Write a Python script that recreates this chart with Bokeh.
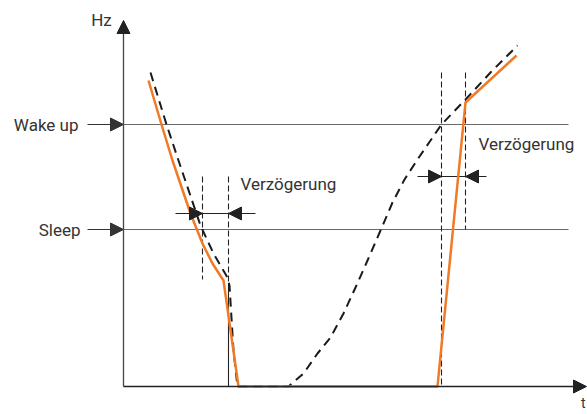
from bokeh.plotting import figure
from bokeh.models import Range1d, Arrow, NormalHead, Label
from bokeh.embed import file_html
from bokeh.resources import INLINE

# ---- data (t, Hz), origin at the axes crossing ----
motor_t = [25, 38, 49, 67, 79, 89, 100, 115, 314, 342, 393]
motor_hz = [306, 262, 226, 173, 143, 123, 106, 0, 0, 284, 331]

demand_t = [27, 43, 55, 77, 90, 104, 106, 110, 114, 165, 180, 194, 207, 220, 232,
            244, 257, 269, 281, 294, 307, 318, 342, 367, 394]
demand_hz = [314, 262, 226, 161, 133, 109, 101, 36, 0, 0, 13, 33, 49, 73, 99,
             126, 156, 184, 207, 227, 246, 262, 287, 314, 341]

wake_hz = 262
sleep_hz = 157
level_labels = ["Wake up", "Sleep"]

delay1_t = [79, 105]
delay2_t = [318, 342]
delay_label = "Verzögerung"

FONT = "Roboto"
TXT = "#333333"
ORANGE = "#F07A25"

p = figure(width=587, height=414, output_backend="svg", toolbar_location=None,
           x_range=Range1d(-123, 464), y_range=Range1d(-28, 386),
           min_border=0, outline_line_color=None)
p.axis.visible = False
p.grid.visible = False
p.background_fill_color = "white"
p.border_fill_color = "white"

# reference levels
for lvl in (wake_hz, sleep_hz):
    p.line([0, 445], [lvl, lvl], line_color="#6a6a6a", line_width=1.2)
    p.add_layout(Arrow(end=NormalHead(size=13, fill_color=TXT, line_color=TXT),
                       x_start=-36, y_start=lvl, x_end=0, y_end=lvl,
                       line_color=TXT, line_width=1.2))

# axes
p.add_layout(Arrow(end=NormalHead(size=13, fill_color="#222", line_color="#222"),
                   x_start=0, y_start=0, x_end=0, y_end=366,
                   line_color="#444", line_width=1.3))
p.add_layout(Arrow(end=NormalHead(size=13, fill_color="#222", line_color="#222"),
                   x_start=0, y_start=0, x_end=463, y_end=0,
                   line_color="#222", line_width=1.5))

# delay markers (left)
p.line([delay1_t[0], delay1_t[0]], [210, 107], line_color="#222", line_width=1.1, line_dash="6 3")
p.line([delay1_t[1], delay1_t[1]], [210, 103], line_color="#222", line_width=1.1, line_dash="6 3")
p.line([delay1_t[1], delay1_t[1]], [103, 0], line_color="#222", line_width=1.1)
p.line([52, 132], [173, 173], line_color="#222", line_width=1.1)
p.add_layout(Arrow(end=NormalHead(size=13, fill_color="#222", line_color="#222"),
                   x_start=60, y_start=173, x_end=delay1_t[0], y_end=173,
                   line_color="#222", line_width=1.1))
p.add_layout(Arrow(end=NormalHead(size=13, fill_color="#222", line_color="#222"),
                   x_start=124, y_start=173, x_end=delay1_t[1], y_end=173,
                   line_color="#222", line_width=1.1))

# delay markers (right)
p.line([delay2_t[0], delay2_t[0]], [314, 0], line_color="#222", line_width=1.1, line_dash="6 3")
p.line([delay2_t[1], delay2_t[1]], [314, 157], line_color="#222", line_width=1.1, line_dash="6 3")
p.line([294, 363], [210, 210], line_color="#222", line_width=1.1)
p.add_layout(Arrow(end=NormalHead(size=13, fill_color="#222", line_color="#222"),
                   x_start=300, y_start=210, x_end=delay2_t[0], y_end=210,
                   line_color="#222", line_width=1.1))
p.add_layout(Arrow(end=NormalHead(size=13, fill_color="#222", line_color="#222"),
                   x_start=358, y_start=210, x_end=delay2_t[1], y_end=210,
                   line_color="#222", line_width=1.1))

# curves
p.line(demand_t, demand_hz, line_color="#1a1a1a", line_width=2, line_dash="9 6",
       line_join="round")
p.line(motor_t, motor_hz, line_color=ORANGE, line_width=2.5, line_join="round")

# texts
def lab(x, y, text, align="left", base="middle", size="17px"):
    p.add_layout(Label(x=x, y=y, text=text, text_font=FONT, text_font_size=size,
                       text_color=TXT, text_align=align, text_baseline=base))

lab(-45, wake_hz, level_labels[0], align="right")
lab(-43, sleep_hz, level_labels[1], align="right")
lab(-22, 367, "Hz", align="center")
lab(462, -16, "t", align="right", size="14px")
lab(117, 203, delay_label)
lab(355, 243, delay_label)

open("out.html", "w").write(file_html(p, INLINE))
